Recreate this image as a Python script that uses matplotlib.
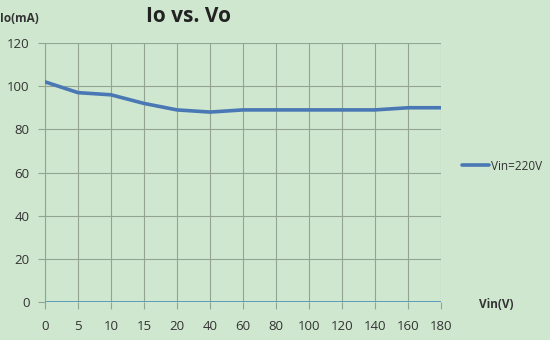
import matplotlib
matplotlib.use("Agg")
import matplotlib.pyplot as plt

categories = ["0", "5", "10", "15", "20", "40", "60", "80", "100", "120", "140", "160", "180"]
io_values = [102, 97, 96, 92, 89, 88, 89, 89, 89, 89, 89, 90, 90]
y_ticks = [0, 20, 40, 60, 80, 100, 120]
series_name = "Vin=220V"

bg = "#cfe7cf"
grid_c = "#93a493"
plt.rcParams["font.family"] = ["Open Sans", "DejaVu Sans"]

fig = plt.figure(figsize=(5.5, 3.4), dpi=100, facecolor=bg)
ax = fig.add_axes([45/550, 1 - 302/340, (441 - 45)/550, (302 - 43)/340])
ax.set_facecolor(bg)

x = list(range(len(categories)))
ax.plot(x, io_values, color="#4a78b4", lw=2.6, solid_capstyle="round", label=series_name, zorder=3)

ax.set_xlim(0, len(categories) - 1)
ax.set_ylim(0, 120)
ax.set_xticks(x)
ax.set_xticklabels(categories)
ax.set_yticks(y_ticks)
ax.grid(True, color=grid_c, lw=0.8)
ax.set_axisbelow(True)
for s in ["top", "right", "bottom"]:
    ax.spines[s].set_visible(False)
ax.spines["left"].set_color(grid_c)
ax.spines["left"].set_linewidth(0.8)
ax.axhline(0, color="#4a90b8", lw=1.2, zorder=2)
ax.tick_params(axis="both", colors=grid_c, labelcolor="#333333", labelsize=9.5, length=5, width=0.8)
ax.tick_params(axis="y", pad=6)
ax.tick_params(axis="x", pad=8)

fig.text(0.0, 1 - 18/340, "Io(mA)", fontsize=8.5, fontweight="bold", color="#333333", ha="left", va="center")
fig.text(188/550, 1 - 16/340, "Io vs. Vo", fontsize=15, fontweight="bold", color="#222222", ha="center", va="center")
fig.text(496/550, 1 - 305/340, "Vin(V)", fontsize=8.5, fontweight="bold", color="#333333", ha="center", va="center")

leg = fig.legend(loc="center left", bbox_to_anchor=(457/550, 1 - 166/340), frameon=False,
                 fontsize=8.5, handlelength=2.3, handletextpad=0.2, borderaxespad=0)
for t in leg.get_texts():
    t.set_color("#333333")

fig.savefig("out.png", dpi=100, facecolor=bg)
